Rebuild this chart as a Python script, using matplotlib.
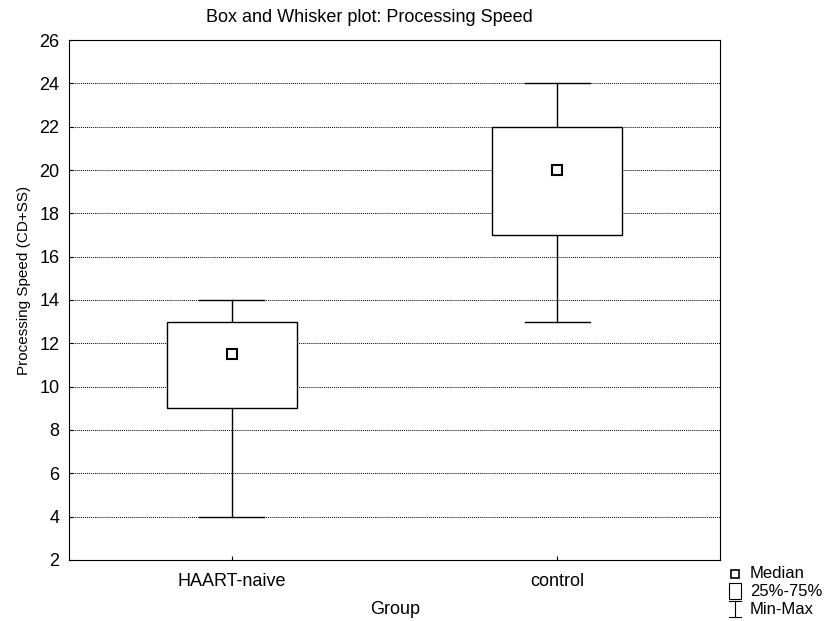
import matplotlib.pyplot as plt
from matplotlib.lines import Line2D
from matplotlib.patches import Rectangle

plt.rcParams['font.family'] = ['Liberation Sans', 'DejaVu Sans']
plt.rcParams['font.size'] = 13

groups = ['HAART-naive', 'control']
medians = [11.5, 20]
q1 = [9, 17]
q3 = [13, 22]
mins = [4, 13]
maxs = [14, 24]

W, H = 828, 621
fig = plt.figure(figsize=(W/100, H/100), dpi=100)
ax = fig.add_axes([69/W, 1-560/H, 651/W, 520/H])

bw = 0.4
cw = 0.2
for i in range(len(groups)):
    ax.plot([i, i], [mins[i], q1[i]], color='black', lw=1, zorder=3)
    ax.plot([i, i], [q3[i], maxs[i]], color='black', lw=1, zorder=3)
    ax.plot([i - cw/2, i + cw/2], [mins[i], mins[i]], color='black', lw=1, zorder=3)
    ax.plot([i - cw/2, i + cw/2], [maxs[i], maxs[i]], color='black', lw=1, zorder=3)
    ax.add_patch(Rectangle((i - bw/2, q1[i]), bw, q3[i] - q1[i],
                           facecolor='white', edgecolor='black', lw=1, zorder=4))
    ax.plot(i, medians[i], marker='s', ms=7, mfc='white', mec='black', mew=1.5, zorder=5)

ax.set_xlim(-0.5, 1.5)
ax.set_ylim(2, 26)
ax.set_yticks(range(2, 27, 2))
ax.set_xticks(range(len(groups)))
ax.set_xticklabels(groups)
ax.tick_params(direction='in', length=3)
ax.tick_params(axis='x', pad=9)
ax.tick_params(axis='y', pad=7)
ax.yaxis.grid(True, linestyle=(0, (1, 1)), color='black', lw=0.7)
ax.set_axisbelow(True)

fig.text(395/W, 1-609/H, 'Group', ha='center', va='center', fontsize=13)
fig.text(24/W, 1-280/H, 'Processing Speed (CD+SS)', rotation=90, ha='center', va='center', fontsize=11)
fig.text(369/W, 1-17/H, 'Box and Whisker plot: Processing Speed', ha='center', va='center', fontsize=13)

# legend drawn by hand at the bottom right
lx = 735/W
tx = 750/W
fig.add_artist(Line2D([lx], [1-574/H], marker='s', ms=6, mfc='white', mec='black', mew=1.2, transform=fig.transFigure))
fig.text(tx, 1-574/H, 'Median', va='center', fontsize=12)
fig.add_artist(Rectangle((729/W, 1-599/H), 12/W, 16/H, facecolor='white', edgecolor='black', lw=0.8, transform=fig.transFigure))
fig.text(tx, 1-591/H, '25%-75%', va='center', fontsize=12)
fig.add_artist(Line2D([lx, lx], [1-601/H, 1-617/H], color='black', lw=0.8, transform=fig.transFigure))
fig.add_artist(Line2D([lx-6/W, lx+6/W], [1-601/H, 1-601/H], color='black', lw=0.8, transform=fig.transFigure))
fig.add_artist(Line2D([lx-6/W, lx+6/W], [1-617/H, 1-617/H], color='black', lw=0.8, transform=fig.transFigure))
fig.text(tx, 1-609/H, 'Min-Max', va='center', fontsize=12)

fig.savefig('out.png', dpi=100)
